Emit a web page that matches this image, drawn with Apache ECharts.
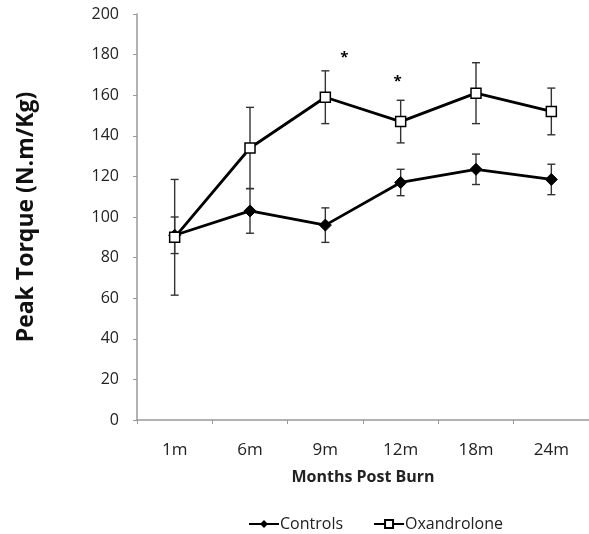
<!DOCTYPE html>
<html>
<head>
<meta charset="utf-8">
<script src="https://cdn.jsdelivr.net/npm/echarts@6/dist/echarts.min.js"></script>
<style>html,body{margin:0;padding:0;background:#fff;}#chart{width:589px;height:534px;}</style>
</head>
<body>
<div id="chart"></div>
<script>
var categories = ['1m', '6m', '9m', '12m', '18m', '24m'];
var controlsMean = [91, 103, 96, 117, 123.5, 118.5];
var controlsErr = [9, 11, 8.5, 6.5, 7.5, 7.5];
var oxandroloneMean = [90, 134, 159, 147, 161, 152];
var oxandroloneErr = [28.5, 20, 13, 10.5, 15, 11.5];
var yTicks = [0, 20, 40, 60, 80, 100, 120, 140, 160, 180, 200];
var sigCategories = ['9m', '12m'];
var sigValues = [180, 168];

var FONT = '"Open Sans", Lato, sans-serif';

function errData(mean, err) {
  return mean.map(function (m, i) { return [i, m - err[i], m + err[i]]; });
}
function errSeries(mean, err, name) {
  return {
    type: 'custom',
    name: name + ' err',
    data: errData(mean, err),
    z: 1,
    silent: true,
    renderItem: function (params, api) {
      var x = api.value(0);
      var lo = api.coord([x, api.value(1)]);
      var hi = api.coord([x, api.value(2)]);
      var cw = 4;
      var st = { stroke: '#333', lineWidth: 1.4 };
      return {
        type: 'group',
        children: [
          { type: 'line', shape: { x1: lo[0], y1: lo[1], x2: hi[0], y2: hi[1] }, style: st },
          { type: 'line', shape: { x1: lo[0] - cw, y1: lo[1], x2: lo[0] + cw, y2: lo[1] }, style: st },
          { type: 'line', shape: { x1: hi[0] - cw, y1: hi[1], x2: hi[0] + cw, y2: hi[1] }, style: st }
        ]
      };
    }
  };
}

var chart = echarts.init(document.getElementById('chart'));
chart.setOption({
  animation: false,
  backgroundColor: '#fff',
  textStyle: { fontFamily: FONT },
  grid: { left: 137, top: 14, width: 457, height: 406 },
  legend: {
    left: 243, top: 511,
    itemWidth: 30, itemHeight: 10, itemGap: 30,
    textStyle: { fontFamily: FONT, fontSize: 16, color: '#222', padding: [0, 0, 0, -4] },
    data: ['Controls', 'Oxandrolone']
  },
  xAxis: {
    type: 'category',
    data: categories,
    boundaryGap: true,
    name: 'Months Post Burn',
    nameLocation: 'middle',
    nameGap: 49,
    nameTextStyle: { fontFamily: FONT, fontWeight: 'bold', fontSize: 16, color: '#222' },
    axisLine: { lineStyle: { color: '#999', width: 1.5 } },
    axisTick: { show: true, length: 4, lineStyle: { color: '#999' } },
    axisLabel: { fontFamily: FONT, fontSize: 17, color: '#222', margin: 22 }
  },
  yAxis: {
    type: 'value',
    min: yTicks[0], max: yTicks[yTicks.length - 1], interval: yTicks[1] - yTicks[0],
    name: 'Peak Torque (N.m/Kg)',
    nameLocation: 'middle',
    nameRotate: 90,
    nameGap: 99,
    nameTextStyle: { fontFamily: FONT, fontWeight: 'bold', fontSize: 23, color: '#111' },
    splitLine: { show: false },
    axisLine: { show: true, lineStyle: { color: '#999', width: 1.5 } },
    axisTick: { show: true, length: 4, lineStyle: { color: '#999' } },
    axisLabel: { fontFamily: FONT, fontSize: 16, color: '#222', margin: 18 }
  },
  series: [
    errSeries(controlsMean, controlsErr, 'Controls'),
    errSeries(oxandroloneMean, oxandroloneErr, 'Oxandrolone'),
    {
      name: 'Controls', type: 'line', data: controlsMean, z: 3,
      symbol: 'diamond', symbolSize: 12,
      itemStyle: { color: '#000', borderColor: '#000' },
      lineStyle: { color: '#000', width: 2.8 }
    },
    {
      name: 'Oxandrolone', type: 'line', data: oxandroloneMean, z: 4,
      symbol: 'rect', symbolSize: 10,
      itemStyle: { color: '#fff', borderColor: '#000', borderWidth: 1.5 },
      lineStyle: { color: '#000', width: 2.8 },
      markPoint: {
        symbol: 'circle', symbolSize: 0,
        label: { show: true, formatter: '*', fontSize: 15, fontWeight: 'bold', color: '#000', position: 'inside' },
        data: [
          { coord: [sigCategories[0], sigValues[0]], symbolOffset: [19, 3] },
          { coord: [sigCategories[1], sigValues[1]], symbolOffset: [-3, 3] }
        ]
      }
    }
  ]
});
</script>
</body>
</html>
